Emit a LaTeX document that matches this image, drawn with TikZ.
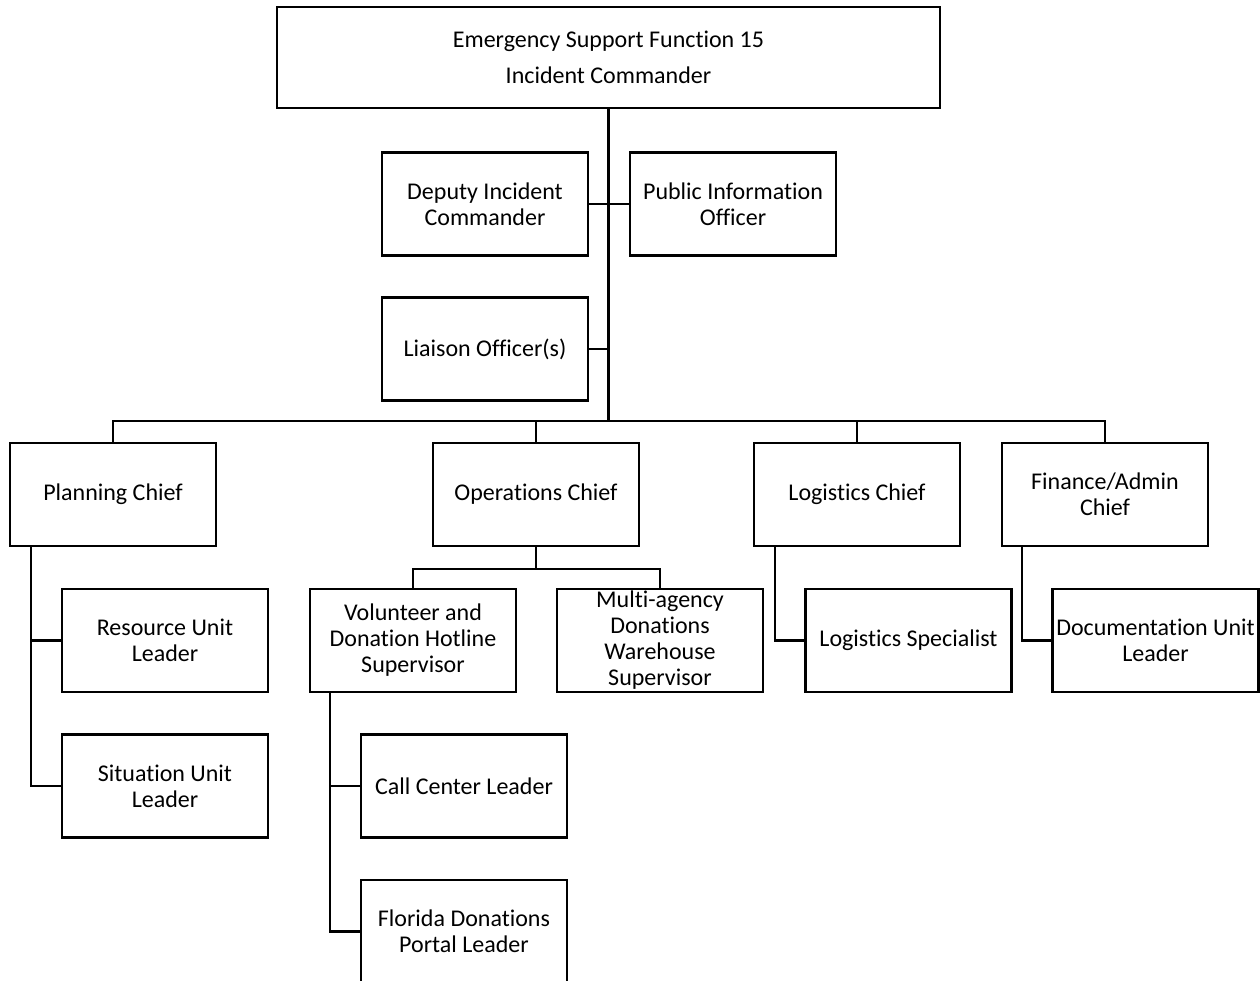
\documentclass[tikz,border=0pt]{standalone}
\usepackage{fontspec}
\setmainfont{Carlito}[Ligatures={NoCommon}]
\usetikzlibrary{positioning}
\tikzset{
  box/.style={draw, line width=1.25pt, rectangle, align=center, inner sep=1pt,
    minimum width=103pt, minimum height=51.5pt, font=\fontsize{12}{13}\selectfont},
  topbox/.style={box, minimum width=331.5pt, minimum height=50.5pt},
  link/.style={line width=1.25pt}
}
\begin{document}
\begin{tikzpicture}[x=0.5pt, y=-0.5pt]
    % Frame
    \useasboundingbox (0,0) rectangle (1260,981);
    \clip (0,0) rectangle (1260,981);

    % Command staff
    \node[topbox] (ic) at (608.5,57.5) {Emergency Support Function 15\\[5pt]Incident Commander};
    \node[box] (deputy) at (485,204) {Deputy Incident\\Commander};
    \node[box] (pio) at (733,204) {Public Information\\Officer};
    \node[box] (liaison) at (485,349) {Liaison Officer(s)};

    % General staff
    \node[box] (planning) at (113,494.5) {Planning Chief};
    \node[box] (ops) at (536,494.5) {Operations Chief};
    \node[box] (logistics) at (857,494.5) {Logistics Chief};
    \node[box] (finance) at (1105,494.5) {Finance/Admin\\Chief};

    % Units
    \node[box] (resource) at (165,640.5) {Resource Unit\\Leader};
    \node[box] (situation) at (165,786) {Situation Unit\\Leader};
    \node[box] (hotline) at (413,640.5) {Volunteer and\\Donation Hotline\\Supervisor};
    \node[box] (warehouse) at (660,640.5) {Multi-agency\\Donations\\Warehouse\\Supervisor};
    \node[box] (callcenter) at (464,786) {Call Center Leader};
    \node[box] (portal) at (464,931.5) {Florida Donations\\Portal Leader};
    \node[box] (logspec) at (908.5,640.5) {Logistics Specialist};
    \node[box] (docunit) at (1155.5,640.5) {Documentation Unit\\Leader};

    % Trunk and bars
    \coordinate (bar) at (ic.south |- 0,421);
    \coordinate (opsbar) at (ops.south |- 0,569);
    \draw[link] (ic.south) -- (bar);
    \draw[link] (deputy.east) -- (pio.west);
    \draw[link] (liaison.east) -- (liaison.east -| ic.south);
    \draw[link] (planning.north) |- (bar) -| (finance.north);
    \draw[link] (ops.north) -- (ops.north |- bar);
    \draw[link] (logistics.north) -- (logistics.north |- bar);

    % Operations branch
    \draw[link] (ops.south) -- (opsbar);
    \draw[link] (hotline.north) |- (opsbar) -| (warehouse.north);

    % Side links
    \draw[link] ([xshift=11pt]planning.south west) |- (resource.west);
    \draw[link] ([xshift=11pt]planning.south west) |- (situation.west);
    \draw[link] ([xshift=10.5pt]hotline.south west) |- (callcenter.west);
    \draw[link] ([xshift=10.5pt]hotline.south west) |- (portal.west);
    \draw[link] ([xshift=11pt]logistics.south west) |- (logspec.west);
    \draw[link] ([xshift=10.5pt]finance.south west) |- (docunit.west);
\end{tikzpicture}
\end{document}
